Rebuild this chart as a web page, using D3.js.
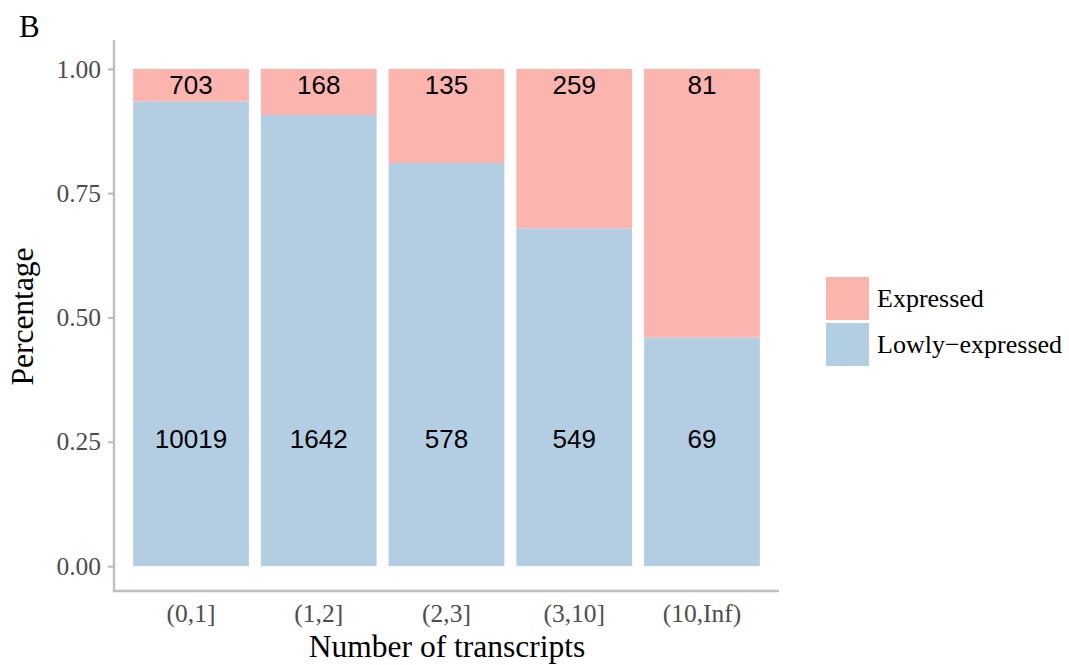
<!DOCTYPE html>
<html>
<head>
<meta charset="utf-8">
<script src="https://cdn.jsdelivr.net/npm/d3@7"></script>
<style>
  html, body { margin: 0; padding: 0; background: #fff; }
  svg { display: block; }
</style>
</head>
<body>
<svg id="chart" width="1069" height="665"></svg>
<script>
// Transcript-count bins and the number of genes in each expression group
const categories = ["(0,1]", "(1,2]", "(2,3]", "(3,10]", "(10,Inf)"];
const lowlyCounts = [10019, 1642, 578, 549, 69];
const expressedCounts = [703, 168, 135, 259, 81];
const groups = ["Expressed", "Lowly\u2212expressed"];
const yTicks = [0, 0.25, 0.5, 0.75, 1];
const labelPosLow = 0.25;
const labelPosHigh = 0.96;

const svg = d3.select("#chart");
const colorExpressed = "#FBB4AE";
const colorLowly = "#B3CDE3";
const axisGrey = "#BEBEBE";
const tickText = "#4D4D4D";
const serif = "'Liberation Serif', 'Times New Roman', serif";
const sans = "'Liberation Sans', Arial, sans-serif";

// Panel extents (ggplot-style expansion on both axes)
const panel = { left: 114, right: 779, top: 44, bottom: 591 };

const x = d3.scaleBand()
  .domain(categories)
  .range([panel.left, panel.right])
  .paddingInner(0.094)
  .paddingOuter(0.15);

const y = d3.scaleLinear()
  .domain([-0.05, 1.05])
  .range([panel.bottom, panel.top]);

const rows = categories.map((c, i) => {
  const total = lowlyCounts[i] + expressedCounts[i];
  return { cat: c, low: lowlyCounts[i], high: expressedCounts[i], pLow: lowlyCounts[i] / total };
});

// Stacked proportional bars
const g = svg.append("g");
g.selectAll("rect.low").data(rows).join("rect")
  .attr("class", "low")
  .attr("x", d => x(d.cat))
  .attr("width", x.bandwidth())
  .attr("y", d => y(d.pLow))
  .attr("height", d => y(0) - y(d.pLow))
  .attr("fill", colorLowly);

g.selectAll("rect.high").data(rows).join("rect")
  .attr("class", "high")
  .attr("x", d => x(d.cat))
  .attr("width", x.bandwidth())
  .attr("y", y(1))
  .attr("height", d => y(d.pLow) - y(1))
  .attr("fill", colorExpressed);

// Count labels
g.selectAll("text.lowlab").data(rows).join("text")
  .attr("x", d => x(d.cat) + x.bandwidth() / 2)
  .attr("y", y(labelPosLow))
  .attr("dy", "0.24em")
  .attr("text-anchor", "middle")
  .style("font-family", sans).style("font-size", "26px").attr("fill", "#000")
  .text(d => d.low);

g.selectAll("text.highlab").data(rows).join("text")
  .attr("x", d => x(d.cat) + x.bandwidth() / 2)
  .attr("y", y(labelPosHigh))
  .attr("dy", "0.2em")
  .attr("text-anchor", "middle")
  .style("font-family", sans).style("font-size", "26px").attr("fill", "#000")
  .text(d => d.high);

// Y axis
const yAxis = svg.append("g")
  .attr("transform", `translate(${panel.left},0)`)
  .call(d3.axisLeft(y).tickValues(yTicks).tickFormat(d3.format(".2f")).tickSize(6).tickPadding(7));
yAxis.select(".domain").remove();
yAxis.selectAll(".tick line").attr("stroke", axisGrey).attr("stroke-width", 2.2);
yAxis.selectAll(".tick text")
  .style("font-family", serif).style("font-size", "25.5px").attr("fill", tickText);
svg.append("line")
  .attr("x1", panel.left).attr("x2", panel.left)
  .attr("y1", 40).attr("y2", panel.bottom + 1)
  .attr("stroke", axisGrey).attr("stroke-width", 2.4);

// X axis
const xAxis = svg.append("g")
  .attr("transform", `translate(0,${panel.bottom})`)
  .call(d3.axisBottom(x).tickSize(0).tickPadding(13));
xAxis.select(".domain").remove();
xAxis.selectAll(".tick text")
  .style("font-family", serif).style("font-size", "25.5px").attr("fill", tickText);
svg.append("line")
  .attr("x1", panel.left - 1).attr("x2", panel.right)
  .attr("y1", panel.bottom).attr("y2", panel.bottom)
  .attr("stroke", axisGrey).attr("stroke-width", 2.4);

// Axis titles
svg.append("text")
  .attr("x", (panel.left + panel.right) / 2 + 0.5)
  .attr("y", 657)
  .attr("text-anchor", "middle")
  .style("font-family", serif).style("font-size", "31.5px").attr("fill", "#000")
  .text("Number of transcripts");

svg.append("text")
  .attr("transform", `translate(33,${(panel.top + panel.bottom) / 2 - 1}) rotate(-90)`)
  .attr("text-anchor", "middle")
  .style("font-family", serif).style("font-size", "31.5px").attr("fill", "#000")
  .text("Percentage");

// Panel tag
svg.append("text")
  .attr("x", 19).attr("y", 37)
  .style("font-family", serif).style("font-size", "31px").attr("fill", "#000")
  .text("B");

// Legend
const legendColors = [colorExpressed, colorLowly];
const legend = svg.append("g").attr("transform", "translate(826,277)");
groups.forEach((name, i) => {
  const row = legend.append("g").attr("transform", `translate(0,${i * 46})`);
  row.append("rect").attr("width", 43).attr("height", 43).attr("fill", legendColors[i]);
  row.append("text")
    .attr("x", 51).attr("y", 21.5).attr("dy", "0.33em")
    .style("font-family", serif).style("font-size", "26px").attr("fill", "#000")
    .text(name);
});
</script>
</body>
</html>
